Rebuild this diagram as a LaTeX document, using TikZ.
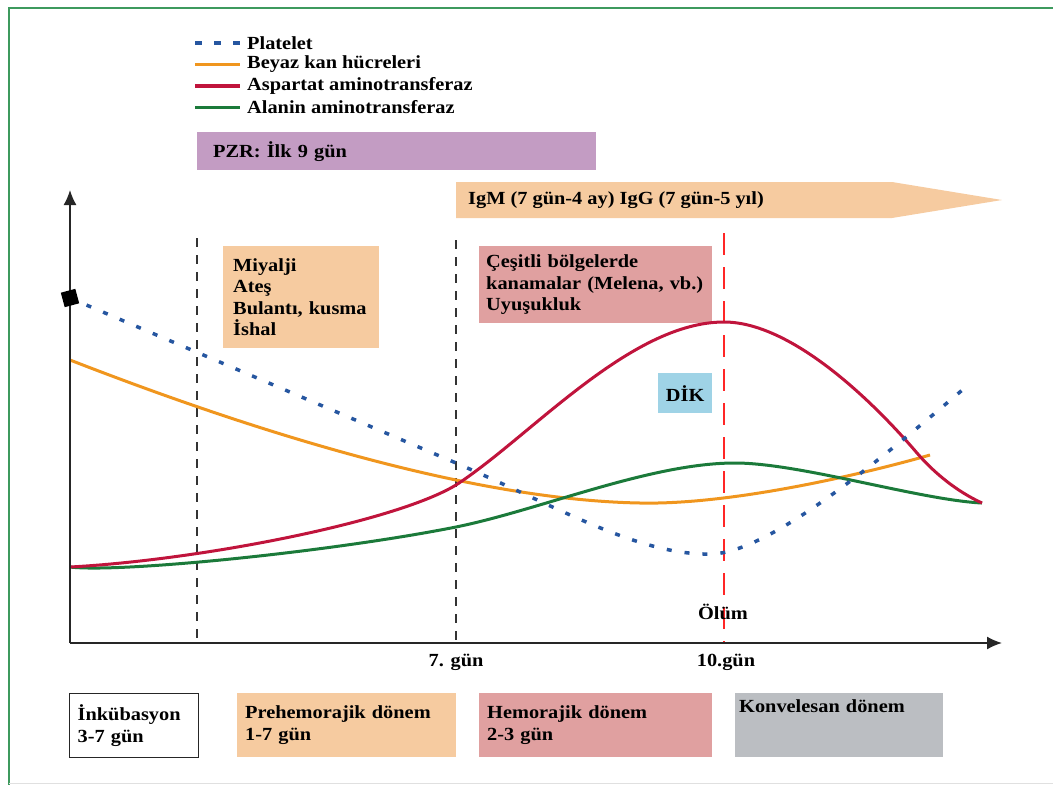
\documentclass[tikz,border=0pt]{standalone}
\usepackage{fontspec}
\setmainfont[FakeStretch=1.1]{Liberation Serif}
\usepackage{tikz}
\usetikzlibrary{positioning,arrows.meta}
\usepackage{xcolor}

\definecolor{pltblue}{HTML}{2656A0}
\definecolor{wbcorange}{HTML}{F0961E}
\definecolor{astred}{HTML}{C0143C}
\definecolor{altgreen}{HTML}{1B7A3A}
\definecolor{pzrpurple}{HTML}{C39CC3}
\definecolor{peach}{HTML}{F6CBA0}
\definecolor{rose}{HTML}{E0A0A0}
\definecolor{dicblue}{HTML}{9FD3E6}
\definecolor{convgray}{HTML}{BBBEC2}
\definecolor{framegreen}{HTML}{3E9A5E}

\begin{document}
\begin{tikzpicture}[
  x=1pt, y=-1pt,
  >=Latex,
  every node/.style={font=\fontsize{18.5}{21.5}\selectfont\bfseries, inner sep=0pt},
  curve/.style={line width=3pt},
  pltline/.style={pltblue, line width=3.5pt, dash pattern=on 5pt off 13pt},
  wbcline/.style={wbcorange, curve},
  astline/.style={astred, curve},
  altline/.style={altgreen, curve},
  axis/.style={line width=1.6pt, black!85, -{Latex[length=15pt,width=13pt]}},
  phaseline/.style={line width=1.4pt, black!80, dash pattern=on 9pt off 8pt},
  deathline/.style={line width=1.2pt, red!85, dash pattern=on 22pt off 12pt},
  legtext/.style={anchor=west},
  infobox/.style={anchor=north west, align=left},
  phase/.style={anchor=north west, align=left, inner xsep=8pt, minimum height=64pt}
]
  \useasboundingbox (0,0) rectangle (1053,785);
  \draw[framegreen, line width=2pt] (9,785) -- (9,8) -- (1053,8);
  \draw[black!12, line width=1pt] (9,783) -- (1053,783);

  % legend
  \node[legtext] (legplt) at (247,43) {Platelet};
  \node[legtext, below=21.5pt of legplt.west, anchor=west] (legwbc) {Beyaz kan hücreleri};
  \node[legtext, below=21.5pt of legwbc.west, anchor=west] (legast) {Aspartat aminotransferaz};
  \node[legtext, below=21.5pt of legast.west, anchor=west] (legalt) {Alanin aminotransferaz};
  \draw[pltline, dash pattern=on 7pt off 12pt] ([xshift=-52pt]legplt.west) -- ([xshift=-7pt]legplt.west);
  \draw[wbcline, line width=3.5pt] ([xshift=-52pt]legwbc.west) -- ([xshift=-7pt]legwbc.west);
  \draw[astline, line width=3.5pt] ([xshift=-52pt]legast.west) -- ([xshift=-7pt]legast.west);
  \draw[altline, line width=3.5pt] ([xshift=-52pt]legalt.west) -- ([xshift=-7pt]legalt.west);

  % test windows
  \node[infobox, fill=pzrpurple, inner xsep=16pt, text width=367pt, minimum height=38pt] (pzr) at (197,132) {PZR: İlk 9 gün};
  \fill[peach] (456,182) -- (892,182) -- (1002,200) -- (892,218) -- (456,218) -- cycle;
  \node[anchor=west] (igm) at (468,200) {IgM (7 gün-4 ay) IgG (7 gün-5 yıl)};

  % symptoms
  \node[infobox, fill=peach, inner xsep=10pt, text width=136pt, minimum height=102pt] (symp) at (223,246)
    {Miyalji\\Ateş\\Bulantı, kusma\\İshal};
  \node[infobox, fill=rose, inner xsep=7pt, text width=219pt, minimum height=77pt] (bleed) at (479,246)
    {Çeşitli bölgelerde\\kanamalar (Melena, vb.)\\Uyuşukluk};
  \node[anchor=north west, fill=dicblue, minimum width=54pt, minimum height=40pt] (dic) at (658,373) {DİK};

  % axes and phase limits
  \coordinate (O) at (70,643);
  \coordinate (ytip) at (70,190);
  \coordinate (xtip) at (1002,643);
  \coordinate (inc) at (197,238);
  \coordinate (day7) at (456,240);
  \coordinate (day10) at (724,233);
  \draw[phaseline] (inc) -- (inc |- O);
  \draw[phaseline] (day7) -- (day7 |- O);
  \draw[deathline] (day10) -- (day10 |- O);

  % curves
  \draw[wbcline] (70,360) .. controls (250,430) and (470,500) .. (640,503)
    .. controls (730,505) and (860,475) .. (930,455);
  \draw[altline] (70,567) .. controls (120,573) and (330,552) .. (456,527)
    .. controls (540,510) and (650,463) .. (735,463)
    .. controls (800,463) and (920,500) .. (982,503);
  \draw[astline] (70,567) .. controls (200,560) and (395,522) .. (456,485)
    .. controls (530,437) and (630,322) .. (724,322)
    .. controls (790,322) and (870,398) .. (917,453)
    .. controls (935,474) and (958,492) .. (982,503);
  \draw[pltline] (70,298) -- (456,463) .. controls (560,508) and (640,556) .. (712,554)
    .. controls (770,552) and (880,460) .. (967,386);

  \draw[axis] (O) -- (ytip);
  \draw[axis] (O) -- (xtip);
  \node[fill=black, minimum size=15pt, rotate=15] (mark) at (70,298) {};

  \node (death) at (723,612) {Ölüm};
  \node (t7) at (456,662) {7. gün};
  \node (t10) at (726,662) {10.gün};

  % phases
  \node[phase, draw=black!85, line width=1.3pt, text width=113pt] (inkub) at (69,693) {İnkübasyon\\3-7 gün};
  \node[phase, fill=peach, text width=203pt] (prehem) at (237,693) {Prehemorajik dönem\\1-7 gün};
  \node[phase, fill=rose, text width=217pt] (hemor) at (479,693) {Hemorajik dönem\\2-3 gün};
  \node[phase, fill=convgray, inner xsep=4pt, inner ysep=0pt, text width=200pt,
    text height=19pt, text depth=45pt] (conv) at (735,693) {Konvelesan dönem};
\end{tikzpicture}
\end{document}
